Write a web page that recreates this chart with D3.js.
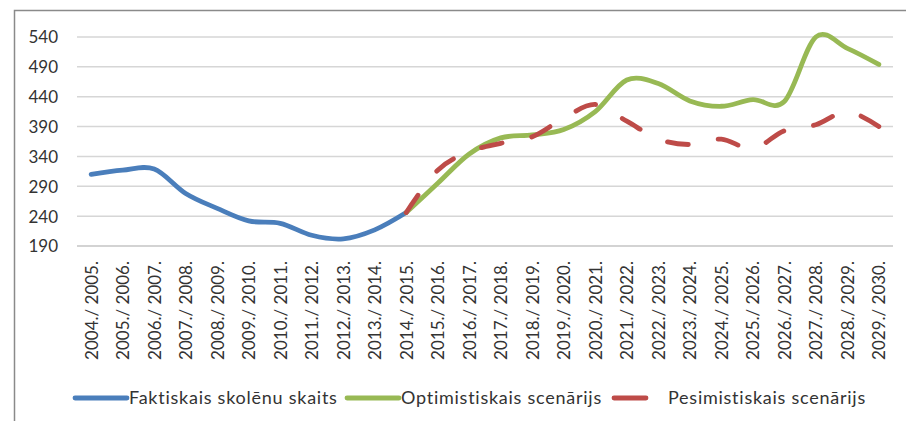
<!DOCTYPE html>
<html>
<head>
<meta charset="utf-8">
<script src="https://cdn.jsdelivr.net/npm/d3@7/dist/d3.min.js"></script>
<style>
  html, body { margin: 0; padding: 0; background: #fff; }
  svg { display: block; }
  text { font-family: Lato, "Open Sans", sans-serif; fill: #333; }
</style>
</head>
<body>
<svg id="chart" width="906" height="421"></svg>
<script>
// School years on the category axis
const years = [
  "2004./ 2005.", "2005./ 2006.", "2006./ 2007.", "2007./ 2008.", "2008./ 2009.",
  "2009./ 2010.", "2010./ 2011.", "2011./ 2012.", "2012./ 2013.", "2013./ 2014.",
  "2014./ 2015.", "2015./ 2016.", "2016./ 2017.", "2017./ 2018.", "2018./ 2019.",
  "2019./ 2020.", "2020./ 2021.", "2021./ 2022.", "2022./ 2023.", "2023./ 2024.",
  "2024./ 2025.", "2025./ 2026.", "2026./ 2027.", "2027./ 2028.", "2028./ 2029.",
  "2029./ 2030."
];

// Actual pupil numbers, 2004./2005. – 2014./2015.
const actual = [310, 317, 319, 278, 253, 232, 228, 208, 202, 217, 246];

// Scenario projections, 2014./2015. – 2029./2030.
const optimistic = [246, 295, 344, 371, 376, 385, 415, 468, 462, 433, 424, 435, 432, 540, 521, 494];
const pessimistic = [246, 317, 348, 362, 373, 404, 427, 399, 369, 360, 369, 353, 383, 393, 415, 390];

const yTicks = [190, 240, 290, 340, 390, 440, 490, 540];

const seriesNames = ["Faktiskais skolēnu skaits", "Optimistiskais scenārijs", "Pesimistiskais scenārijs"];
const seriesColors = ["#4a7ebb", "#98b954", "#be4b48"];

const svg = d3.select("#chart");

// Outer chart frame
svg.append("rect")
  .attr("x", 14.5).attr("y", 10.5)
  .attr("width", 1000).attr("height", 1000)
  .attr("fill", "none").attr("stroke", "#8a8a8a").attr("stroke-width", 1.5);

const plot = { left: 77, right: 893, top: 37, bottom: 246 };

const x = d3.scalePoint().domain(years).range([plot.left, plot.right]).padding(0.45);
const y = d3.scaleLinear().domain([190, 540]).range([plot.bottom, plot.top]);

// Horizontal gridlines
svg.append("g")
  .selectAll("line")
  .data(yTicks)
  .join("line")
  .attr("x1", plot.left).attr("x2", plot.right)
  .attr("y1", d => y(d)).attr("y2", d => y(d))
  .attr("stroke", d => d === 190 ? "#c4c4c4" : "#d6d6d6")
  .attr("stroke-width", 1.5);

// Value axis labels
const yAxis = d3.axisLeft(y).tickValues(yTicks).tickSize(0).tickPadding(0);
svg.append("g")
  .attr("transform", `translate(58,0)`)
  .call(yAxis)
  .call(g => g.select(".domain").remove())
  .call(g => g.selectAll("text")
    .attr("font-size", 17)
    .attr("font-family", "Lato, sans-serif")
    .attr("fill", "#333")
    .attr("dy", "0.35em"));

// Category axis labels, rotated
const xAxis = d3.axisBottom(x).tickSize(0).tickPadding(0);
svg.append("g")
  .attr("transform", `translate(0,${plot.bottom})`)
  .call(xAxis)
  .call(g => g.select(".domain").remove())
  .call(g => g.selectAll("text")
    .attr("font-size", 17)
    .attr("font-family", "Lato, sans-serif")
    .attr("fill", "#333")
    .attr("text-anchor", "end")
    .attr("dy", "0.35em")
    .attr("transform", "translate(0,15) rotate(-90)"));

const line = d3.line()
  .x(d => x(d.year))
  .y(d => y(d.value))
  .curve(d3.curveCardinal.tension(0));

const actualData = actual.map((v, i) => ({ year: years[i], value: v }));
const optData = optimistic.map((v, i) => ({ year: years[i + 10], value: v }));
const pesData = pessimistic.map((v, i) => ({ year: years[i + 10], value: v }));

const lines = svg.append("g")
  .attr("fill", "none")
  .attr("stroke-width", 4.8)
  .attr("stroke-linecap", "round")
  .attr("stroke-linejoin", "round");

lines.append("path").datum(actualData).attr("d", line).attr("stroke", seriesColors[0]);
lines.append("path").datum(optData).attr("d", line).attr("stroke", seriesColors[1]);
const pesPath = lines.append("path").datum(pesData).attr("d", line).attr("stroke", seriesColors[2]);

// Stretch the dash gap slightly so the dashed line starts and ends on a dash
const dashLen = 21;
const total = pesPath.node().getTotalLength();
const periods = Math.max(1, Math.round((total - dashLen) / 49));
const period = (total - dashLen) / periods;
pesPath.attr("stroke-dasharray", `${dashLen},${(period - dashLen).toFixed(2)}`);

// Legend
const legendY = 398;
const legendItems = [
  { x0: 75, x1: 127, tx: 129 },
  { x0: 347, x1: 399, tx: 401 },
  { x0: 614, x1: 646, tx: 668 }
];
const legend = svg.append("g");
legendItems.forEach((it, i) => {
  legend.append("line")
    .attr("x1", it.x0).attr("x2", it.x1)
    .attr("y1", legendY).attr("y2", legendY)
    .attr("stroke", seriesColors[i])
    .attr("stroke-width", 4.8)
    .attr("stroke-linecap", "round");
  legend.append("text")
    .attr("x", it.tx).attr("y", legendY)
    .attr("dy", "0.35em")
    .attr("font-size", 18)
    .attr("letter-spacing", 0.75)
    .text(seriesNames[i]);
});
</script>
</body>
</html>
